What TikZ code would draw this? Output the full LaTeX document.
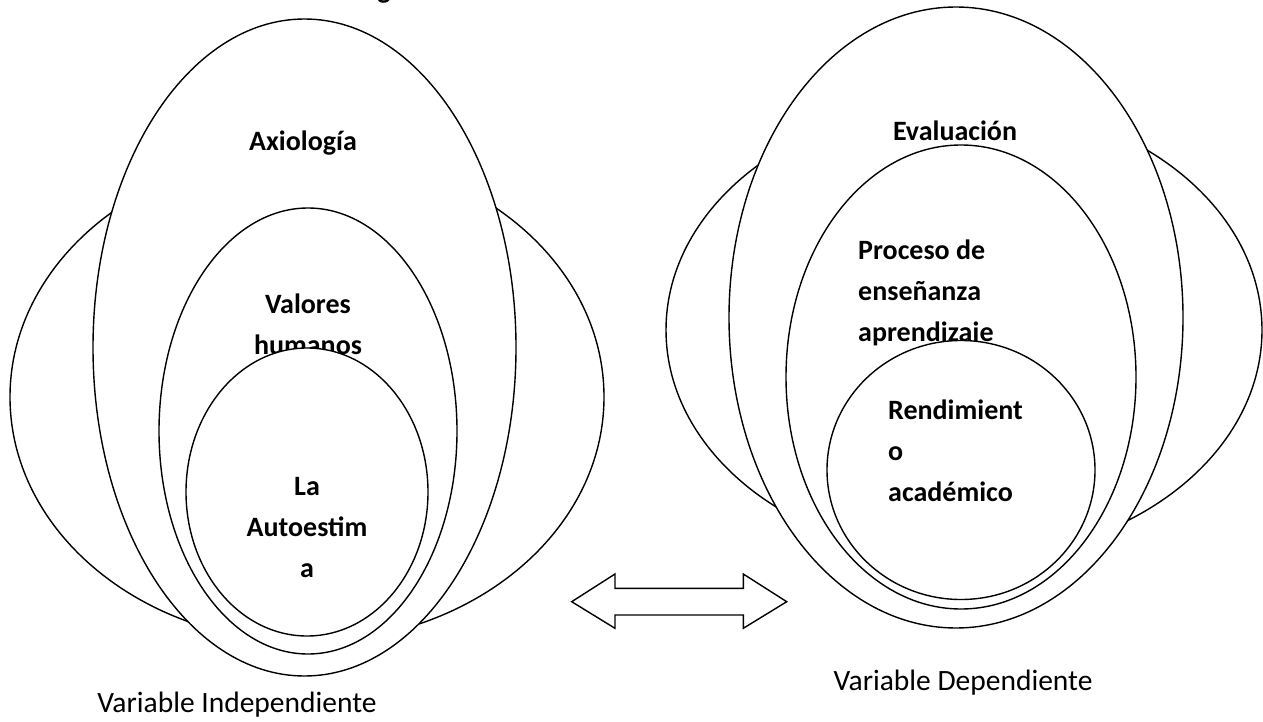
\documentclass[tikz,border=0pt]{standalone}
\usepackage{fontspec}
\setmainfont{Carlito}
\usetikzlibrary{shapes.geometric}
\begin{document}
\begin{tikzpicture}[x=1pt,y=-1pt,
  ring/.style={ellipse, draw=black, line width=1.4pt, fill=white, inner sep=0pt, outer sep=0pt},
  lbl/.style={font=\fontsize{28}{41}\selectfont\bfseries, inner sep=0pt},
  captxt/.style={font=\fontsize{29.5}{35}\selectfont, inner sep=0pt}]
\useasboundingbox (0,0) rectangle (1263,722);
\clip (0,0) rectangle (1263,722);
\fill[white] (0,0) rectangle (1263,722);
% cut-off heading glyph at the top
\node[lbl, anchor=base] (top) at (384,-1) {g};
% left group
\node[ring, minimum width=594pt, minimum height=490pt] (wideL) at (307,397) {};
\node[ring, minimum width=423pt, minimum height=657pt] (tallL) at (304.5,347.5) {};
\node[lbl] (axL) at (303,143) {Axiología};
\node[ring, minimum width=298pt, minimum height=446pt] (midL) at (308,431) {};
\node[lbl, align=center] (valL) at (308,324) {Valores\\humanos};
\node[ring, minimum width=242pt, minimum height=288pt] (innL) at (307,492) {};
\node[lbl, align=center] (autL) at (307,528) {La\\Autoestim\\a};
% right group
\node[ring, minimum width=596pt, minimum height=456pt] (wideR) at (964,330) {};
\node[ring, minimum width=454pt, minimum height=621pt] (tallR) at (956,317.5) {};
\node[lbl] (evR) at (955,131) {Evaluación};
\node[ring, minimum width=350pt, minimum height=464pt] (midR) at (961,377) {};
\node[lbl, align=left, anchor=west] (procR) at (858,293) {Proceso de\\enseñanza\\aprendizaje};
\node[ring, minimum width=268pt, minimum height=259pt] (innR) at (961,470) {};
\node[lbl, align=left, anchor=west] (rendR) at (888,451) {Rendimient\\o\\académico};
% double arrow
\draw[line width=1.4pt, line join=miter, fill=white]
  (571.7,601.7) -- (615,574) -- (615,588.3) -- (743.3,588.3) -- (743.3,574)
  -- (786.7,601.7) -- (743.3,628.3) -- (743.3,615) -- (615,615) -- (615,628.3) -- cycle;
% captions
\node[captxt] (varI) at (237,705) {Variable Independiente};
\node[captxt] (varD) at (963,683) {Variable Dependiente};
\end{tikzpicture}
\end{document}
